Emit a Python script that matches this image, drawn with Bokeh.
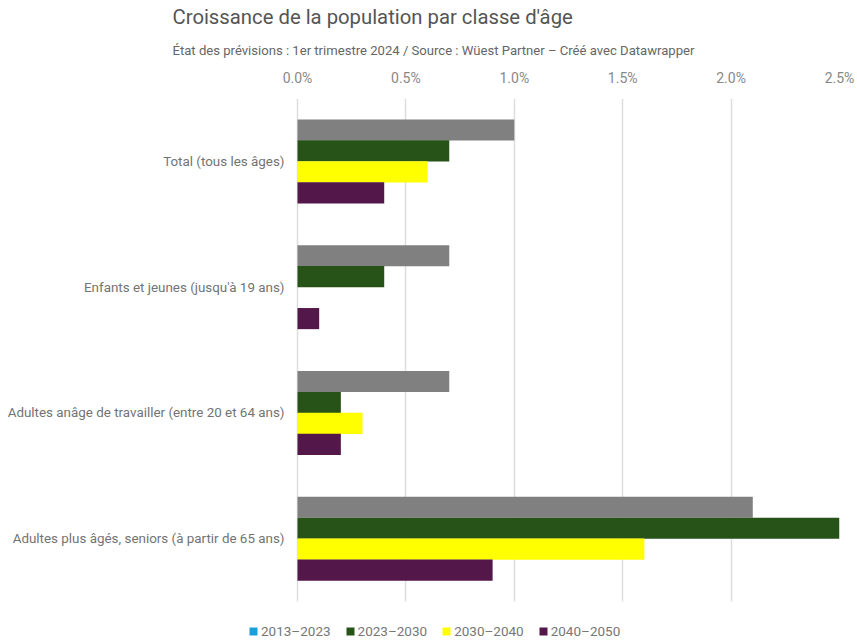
from bokeh.plotting import figure
from bokeh.models import (Range1d, FixedTicker, PrintfTickFormatter,
                          Legend, LegendItem, Title, ColumnDataSource)
from bokeh.transform import dodge
from bokeh.embed import file_html
from bokeh.resources import INLINE

categories = [
    "Total (tous les âges)",
    "Enfants et jeunes (jusqu'à 19 ans)",
    "Adultes anâge de travailler (entre 20 et 64 ans)",
    "Adultes plus âgés, seniors (à partir de 65 ans)",
]
periods = ["2013–2023", "2023–2030", "2030–2040", "2040–2050"]
v_2013_2023 = [1.0, 0.7, 0.7, 2.1]
v_2023_2030 = [0.7, 0.4, 0.2, 2.5]
v_2030_2040 = [0.6, 0.0, 0.3, 1.6]
v_2040_2050 = [0.4, 0.1, 0.2, 0.9]
x_ticks = [0.0, 0.5, 1.0, 1.5, 2.0, 2.5]

bar_colors = ["#808080", "#285318", "#ffff00", "#53174a"]
legend_colors = ["#1a9fdb", "#285318", "#ffff00", "#53174a"]
offsets = [0.25, 0.0833, -0.0833, -0.25]
FONT = "Roboto"

n = len(categories)
pos = [n - i - 0.5 for i in range(n)]   # category centres, top to bottom

src = ColumnDataSource(dict(
    pos=pos, cat=categories,
    a=v_2013_2023, b=v_2023_2030, c=v_2030_2040, d=v_2040_2050,
))
keys = ["a", "b", "c", "d"]

# frame spans the whole width so labels and legend (left of the zero line) stay visible
p = figure(width=857, height=640,
           x_range=Range1d(-297 / 216.8, 2.5),
           y_range=Range1d(-39 / 126, n),
           x_axis_location="above",
           output_backend="svg", toolbar_location=None,
           min_border_left=0, min_border_right=18,
           min_border_top=97, min_border_bottom=0,
           outline_line_color=None)

for key, col, off in zip(keys, bar_colors, offsets):
    p.hbar(y=dodge("pos", off), left=0, right=key, height=0.168,
           source=src, fill_color=col, line_color=None)

# legend swatches: zero-width (invisible) bars carrying the legend colours
items = []
for key, lab, col, off in zip(keys, periods, legend_colors, offsets):
    r = p.hbar(y=dodge("pos", off), left=key, right=key, height=0.168,
               source=src, fill_color=col, line_color=None)
    items.append(LegendItem(label=lab, renderers=[r]))
legend = Legend(items=items, orientation="horizontal", location=(248, 1),
                padding=0, margin=0, spacing=14, glyph_width=10, glyph_height=10,
                label_standoff=3, label_text_font=FONT, label_text_font_size="13.5px",
                label_text_color="#777777", border_line_color=None,
                background_fill_alpha=0)
p.add_layout(legend, "center")

# x axis (top)
xa = p.xaxis[0]
xa.ticker = FixedTicker(ticks=x_ticks)
xa.formatter = PrintfTickFormatter(format="%.1f%%")
xa.axis_line_color = None
xa.major_tick_line_color = None
xa.minor_tick_line_color = None
xa.major_label_text_font = FONT
xa.major_label_text_font_size = "14px"
xa.major_label_text_color = "#888888"
xa.major_label_standoff = 7

# y axis drawn at the zero line
ya = p.yaxis[0]
ya.fixed_location = 0
ya.ticker = FixedTicker(ticks=pos)
ya.major_label_overrides = {v: c for v, c in zip(pos, categories)}
ya.axis_line_color = None
ya.major_tick_line_color = None
ya.minor_tick_line_color = None
ya.major_label_text_font = FONT
ya.major_label_text_font_size = "13.4px"
ya.major_label_text_color = "#737373"
ya.major_label_standoff = 7

p.xgrid.grid_line_color = "#dddddd"
p.xgrid.grid_line_width = 1.5
p.xgrid.ticker = FixedTicker(ticks=x_ticks)
p.xgrid.cross_bounds = (0, n)
p.ygrid.grid_line_color = None

p.title.visible = False
p.add_layout(Title(text="État des prévisions : 1er trimestre 2024 / Source : Wüest Partner – Créé avec Datawrapper",
                   text_font=FONT, text_font_size="13.1px", text_color="#666666",
                   text_font_style="normal", offset=172, standoff=18), "above")
p.add_layout(Title(text="Croissance de la population par classe d'âge",
                   text_font=FONT, text_font_size="20.3px", text_color="#555555",
                   text_font_style="normal", offset=172, standoff=5), "above")

open("out.html", "w").write(file_html(p, INLINE))
